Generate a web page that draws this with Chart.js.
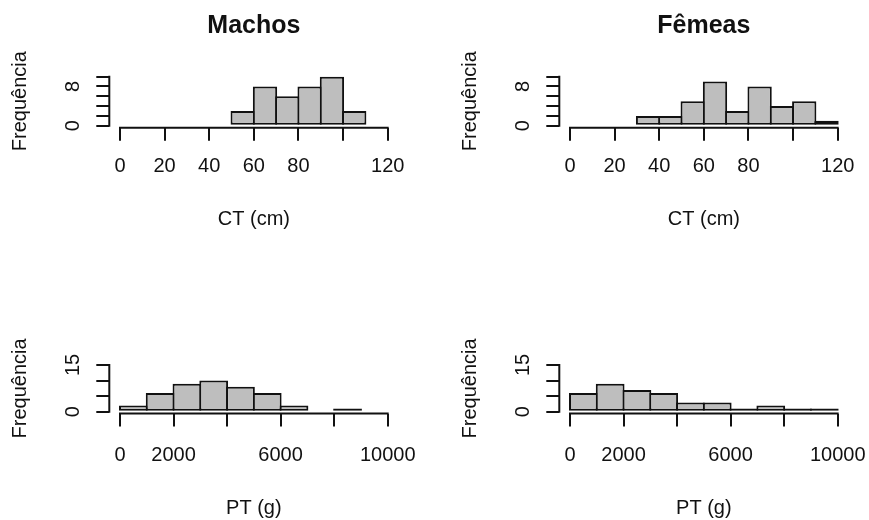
<!DOCTYPE html>
<html>
<head>
<meta charset="utf-8">
<script src="https://cdn.jsdelivr.net/npm/chart.js@4.4.1/dist/chart.umd.min.js"></script>
<style>
  body { margin: 0; background: #fff; }
  #wrap { position: relative; width: 869px; height: 520px; overflow: hidden; background: #fff; }
  #wrap canvas { position: absolute; }
</style>
</head>
<body>
<div id="wrap">
  <canvas id="machosCT" width="450" height="260" style="left:0;top:0"></canvas>
  <canvas id="femeasCT" width="450" height="260" style="left:450px;top:0"></canvas>
  <canvas id="machosPT" width="450" height="260" style="left:0;top:260px"></canvas>
  <canvas id="femeasPT" width="450" height="260" style="left:450px;top:260px"></canvas>
</div>
<script>
// histogram bins: midpoints and counts
const machosCtMid = [55, 65, 75, 85, 95, 105];
const machosCtCount = [3, 8, 6, 8, 10, 3];
const femeasCtMid = [35, 45, 55, 65, 75, 85, 95, 105, 115];
const femeasCtCount = [2, 2, 5, 9, 3, 8, 4, 5, 1];
const machosPtMid = [500, 1500, 2500, 3500, 4500, 5500, 6500, 7500, 8500];
const machosPtCount = [2, 6, 9, 10, 8, 6, 2, 0, 1];
const femeasPtMid = [500, 1500, 2500, 3500, 4500, 5500, 6500, 7500, 8500, 9500];
const femeasPtCount = [6, 9, 7, 6, 3, 3, 1, 2, 1, 1];

// ticks and labels ('' = label dropped like R does)
const ctTicks = [0, 20, 40, 60, 80, 100, 120];
const ctTickLabels = ['0', '20', '40', '60', '80', '', '120'];
const ptTicks = [0, 2000, 4000, 6000, 8000, 10000];
const ptTickLabels = ['0', '2000', '', '6000', '', '10000'];
const ctFreqTicks = [0, 2, 4, 6, 8, 10];
const ctFreqLabels = ['0', '', '', '', '8', ''];
const ptFreqTicks = [0, 5, 10, 15];
const ptFreqLabels = ['0', '', '', '15'];

const INK = '#111';
const FILL = '#bebebe';
const LW = 2;
const TICK_LEN = 13;
const FONT = 20;
const TITLE_FONT = 25;
const W = 450, H = 260;

Chart.defaults.font.family = '"Liberation Sans", Arial, sans-serif';
Chart.defaults.color = INK;

// plot boxes in canvas pixels
const topBox = { left: 109.3, right: 398.4, top: 74.7, bottom: 127.7, tickLabelY: 166.3, axisTitleY: 219, titleY: 26 };
const bottomBox = { left: 109.3, right: 398.4, top: 103.1, bottom: 153.6, tickLabelY: 195.5, axisTitleY: 248 };

// R style axis line: from first to last tick only
const rAxisLines = {
  id: 'rAxisLines',
  afterDraw(chart) {
    const { ctx, chartArea: a, scales: { x, y } } = chart;
    const xt = x.ticks, yt = y.ticks;
    ctx.save();
    ctx.strokeStyle = INK;
    ctx.lineWidth = LW;
    ctx.lineCap = 'square';
    ctx.beginPath();
    ctx.moveTo(x.getPixelForValue(xt[0].value), a.bottom);
    ctx.lineTo(x.getPixelForValue(xt[xt.length - 1].value), a.bottom);
    ctx.moveTo(a.left, y.getPixelForValue(yt[0].value));
    ctx.lineTo(a.left, y.getPixelForValue(yt[yt.length - 1].value));
    ctx.stroke();
    ctx.restore();
  }
};

const meas = document.createElement('canvas').getContext('2d');
meas.font = FONT + 'px "Liberation Sans"';

function hist(id, o) {
  const b = o.box;
  const x0 = o.xTicks[0], x1 = o.xTicks[o.xTicks.length - 1];
  const y0 = o.yTicks[0], y1 = o.yTicks[o.yTicks.length - 1];
  const xMin = x0 - 0.04 * (x1 - x0), xMax = x1 + 0.04 * (x1 - x0);
  const yMin = y0 - 0.04 * (y1 - y0), yMax = y1 + 0.04 * (y1 - y0);
  const binPx = o.bin * (b.right - b.left) / (xMax - xMin);
  const lh = FONT * 1.2;
  const xScaleH = b.axisTitleY + lh / 2 - b.bottom;
  const widest = Math.max(...o.yLabels.map(t => meas.measureText(t).width));
  const tlh = TITLE_FONT * 1.2;
  const padTop = o.title ? b.titleY - tlh / 2 : b.top;

  const grid = {
    display: true, offset: false, drawOnChartArea: false, drawTicks: true,
    tickLength: TICK_LEN, tickWidth: LW, tickColor: INK, lineWidth: LW, color: INK
  };

  new Chart(document.getElementById(id), {
    type: 'bar',
    data: {
      datasets: [{
        data: o.mid.map((m, i) => ({ x: m, y: o.count[i] })),
        backgroundColor: FILL,
        borderColor: INK,
        borderWidth: LW,
        borderSkipped: false,
        inflateAmount: 0,
        categoryPercentage: 1,
        barPercentage: (binPx + LW) / binPx
      }]
    },
    options: {
      responsive: false,
      animation: false,
      layout: { padding: { left: 0, right: W - b.right, top: padTop, bottom: H - b.bottom - xScaleH } },
      plugins: {
        legend: { display: false },
        tooltip: { enabled: false },
        title: {
          display: !!o.title,
          text: o.title || '',
          fullSize: false,
          color: INK,
          font: { size: TITLE_FONT, weight: 'bold' },
          padding: { top: 0, bottom: b.top - padTop - tlh }
        }
      },
      scales: {
        x: {
          type: 'linear', min: xMin, max: xMax, bounds: 'data', offset: false,
          grid: grid,
          border: { display: false },
          afterBuildTicks: s => { s.ticks = o.xTicks.map(v => ({ value: v })); },
          ticks: {
            autoSkip: false, maxRotation: 0, minRotation: 0,
            padding: b.tickLabelY - b.bottom - TICK_LEN - lh / 2,
            color: INK, font: { size: FONT },
            callback: (v, i) => o.xLabels[i]
          },
          title: { display: true, text: o.xTitle, color: INK, font: { size: FONT }, padding: { top: 0, bottom: 0 } },
          afterFit: s => { s.height = xScaleH; }
        },
        y: {
          type: 'linear', min: yMin, max: yMax, bounds: 'data',
          grid: grid,
          border: { display: false },
          afterBuildTicks: s => { s.ticks = o.yTicks.map(v => ({ value: v })); },
          ticks: {
            autoSkip: false, minRotation: 90, maxRotation: 90, crossAlign: 'center',
            padding: 36 - TICK_LEN - widest / 2,
            color: INK, font: { size: FONT },
            callback: (v, i) => o.yLabels[i]
          },
          title: { display: true, text: 'Frequência', color: INK, font: { size: FONT }, padding: { top: 20 - lh / 2, bottom: 0 } },
          afterFit: s => { s.width = b.left; }
        }
      }
    },
    plugins: [rAxisLines]
  });
}

hist('machosCT', { title: 'Machos', xTitle: 'CT (cm)', mid: machosCtMid, count: machosCtCount, bin: 10,
  xTicks: ctTicks, xLabels: ctTickLabels, yTicks: ctFreqTicks, yLabels: ctFreqLabels, box: topBox });
hist('femeasCT', { title: 'Fêmeas', xTitle: 'CT (cm)', mid: femeasCtMid, count: femeasCtCount, bin: 10,
  xTicks: ctTicks, xLabels: ctTickLabels, yTicks: ctFreqTicks, yLabels: ctFreqLabels, box: topBox });
hist('machosPT', { xTitle: 'PT (g)', mid: machosPtMid, count: machosPtCount, bin: 1000,
  xTicks: ptTicks, xLabels: ptTickLabels, yTicks: ptFreqTicks, yLabels: ptFreqLabels, box: bottomBox });
hist('femeasPT', { xTitle: 'PT (g)', mid: femeasPtMid, count: femeasPtCount, bin: 1000,
  xTicks: ptTicks, xLabels: ptTickLabels, yTicks: ptFreqTicks, yLabels: ptFreqLabels, box: bottomBox });
</script>
</body>
</html>
